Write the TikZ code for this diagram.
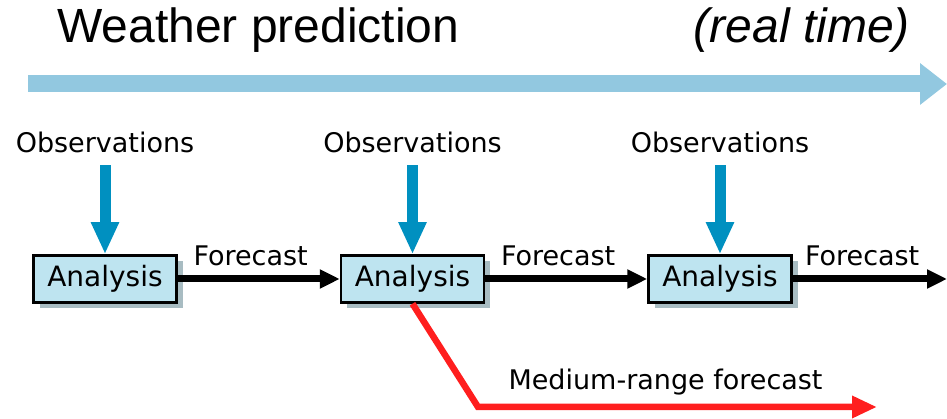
\documentclass[tikz,border=0pt]{standalone}
\usepackage{fontspec}
\setmainfont{DejaVu Sans}
\newfontfamily\headfont{Liberation Sans}
\usepackage{tikz}
\usetikzlibrary{positioning, arrows.meta, shadows, calc}

\definecolor{timeblue}{RGB}{146,200,224}
\definecolor{obsblue}{RGB}{0,144,192}
\definecolor{boxfill}{RGB}{190,228,240}
\definecolor{shadowgrey}{RGB}{168,188,194}
\definecolor{medred}{RGB}{255,30,30}

\begin{document}
\begin{tikzpicture}[x=1pt, y=1pt, >=Stealth,
    every node/.style={font=\fontsize{27}{32}\selectfont, inner sep=2pt},
    analysis/.style={draw, line width=2.5pt, fill=boxfill, minimum width=143pt, minimum height=47pt,
      inner sep=0pt, font=\fontsize{28}{32}\selectfont,
      drop shadow={shadow xshift=6pt, shadow yshift=-6pt, fill=shadowgrey, opacity=1}},
    headtext/.style={font=\headfont\fontsize{48}{56}\selectfont, inner sep=0pt},
    obsarrow/.style={-{Triangle[width=26pt, length=32pt]}, line width=11pt, obsblue, shorten <=10pt},
    fcarrow/.style={-{Triangle[width=18pt, length=20pt]}, line width=7pt},
    mrarrow/.style={-{Triangle[width=21pt, length=25pt]}, line width=6.5pt, medred},
    timearrow/.style={-{Triangle[width=40pt, length=27pt]}, line width=17pt, timeblue},
    fclabel/.style={pos=.45, anchor=base, yshift=13pt, text=black},
    mrlabel/.style={pos=.47, anchor=base, yshift=17pt, text=black}]
      \useasboundingbox (0,0) rectangle (947,419);

      % Title and time axis
      \node[headtext, anchor=base west] (title) at (57,376) {Weather prediction};
      \node[headtext, anchor=base east] (realtime) at (910,376) {\itshape (real time)};
      \coordinate (tlStart) at (28,335);
      \coordinate (tlEnd) at (947,335);
      \draw[timearrow] (tlStart) -- (tlEnd);

      % Analysis nodes
      \node[analysis] (an1) at (105,140) {Analysis};
      \node[analysis, right=162pt of an1] (an2) {Analysis};
      \node[analysis, right=162pt of an2] (an3) {Analysis};

      % Observations
      \node[above=99pt of an1] (obs1) {Observations};
      \node[above=99pt of an2] (obs2) {Observations};
      \node[above=99pt of an3] (obs3) {Observations};

      \draw[obsarrow] (obs1) -- (an1);
      \draw[obsarrow] (obs2) -- (an2);
      \draw[obsarrow] (obs3) -- (an3);

      % Forecasts
      \coordinate (fcEnd) at (947,140);
      \draw[fcarrow] (an1) -- node[fclabel] {Forecast} (an2);
      \draw[fcarrow] (an2) -- node[fclabel] {Forecast} (an3);
      \draw[fcarrow] (an3) -- node[fclabel] {Forecast} (fcEnd);

      % Medium-range branch
      \coordinate (mrBend) at (478,12);
      \coordinate (mrEnd) at (877,12);
      \draw[mrarrow] (an2.south) -- (mrBend) -- node[mrlabel] {Medium-range forecast} (mrEnd);

    \end{tikzpicture}
\end{document}
